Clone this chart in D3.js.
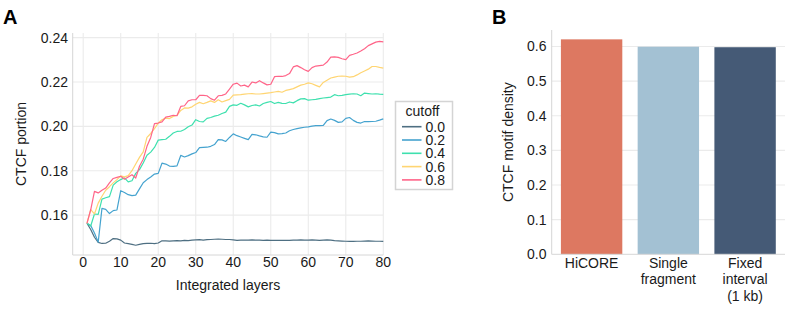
<!DOCTYPE html>
<html>
<head>
<meta charset="utf-8">
<script src="https://cdn.jsdelivr.net/npm/d3@7"></script>
<style>
  body { margin: 0; background: #fff; }
  text { font-family: 'Liberation Sans', Arial, Helvetica, sans-serif; fill: #1a1a1a; }
</style>
</head>
<body>
<div id="content"></div>
<script>
// panel A data: CTCF portion per number of integrated layers
const layers = d3.range(1, 81)
const cutoffs = ['0.0', '0.2', '0.4', '0.6', '0.8']
const cutoffColors = ['#4e6f82', '#45a3cf', '#3ee0ae', '#ffd572', '#ff6589']

const cut00 = [.1563, .1535, .1500, .1477, .1472, .1473, .1482, .1494, .1493, .1487,
    .1474, .1471, .1468, .1464, .1468, .1471, .1472, .1473, .1471, .1474,
    .1484, .1484, .1483, .1484, .1485, .1484, .1486, .1485, .1487, .1488,
    .1489, .1487, .1489, .1490, .1491, .1492, .1491, .1490, .1490, .1488,
    .1486, .1487, .1487, .1487, .1488, .1487, .1487, .1486, .1487, .1486,
    .1486, .1486, .1486, .1486, .1486, .1487, .1487, .1488, .1487, .1487,
    .1488, .1487, .1486, .1487, .1488, .1487, .1485, .1484, .1483, .1482,
    .1481, .1481, .1482, .1482, .1483, .1484, .1483, .1482, .1482, .1481]
const cut02 = [.1563, .1553, .1519, .1478, .1630, .1626, .1607, .1620, .1623, .1710,
    .1702, .1692, .1688, .1690, .1718, .1746, .1760, .1772, .1785, .1788,
    .1834, .1830, .1821, .1820, .1822, .1869, .1862, .1868, .1876, .1882,
    .1904, .1905, .1906, .1910, .1918, .1940, .1939, .1932, .1950, .1966,
    .1958, .1952, .1946, .1940, .1964, .1962, .1957, .1953, .1951, .1974,
    .1972, .1966, .1967, .1970, .1980, .1986, .1990, .1993, .1996, .1998,
    .2001, .2003, .2003, .2004, .2026, .2033, .2027, .2018, .2020, .2036,
    .2040, .2027, .2018, .2015, .2022, .2021, .2022, .2023, .2028, .2034]
const cut04 = [.1563, .1551, .1605, .1603, .1672, .1678, .1683, .1735, .1750, .1760,
    .1768, .1750, .1755, .1788, .1805, .1835, .1870, .1884, .1905, .1938,
    .1940, .1942, .1955, .1970, .1977, .1978, .1986, .1998, .2006, .2030,
    .2022, .2020, .2036, .2040, .2046, .2050, .2058, .2064, .2090, .2097,
    .2095, .2104, .2097, .2088, .2094, .2097, .2092, .2103, .2108, .2112,
    .2103, .2108, .2104, .2103, .2110, .2106, .2116, .2124, .2125, .2118,
    .2120, .2122, .2125, .2128, .2130, .2132, .2143, .2138, .2140, .2143,
    .2145, .2147, .2146, .2138, .2150, .2148, .2146, .2147, .2145, .2144]
const cut06 = [.1563, .1625, .1605, .1654, .1685, .1712, .1728, .1745, .1760, .1777,
    .1772, .1778, .1800, .1830, .1860, .1885, .1950, .1968, .1990, .2015,
    .2030, .2037, .2035, .2045, .2050, .2072, .2083, .2082, .2088, .2100,
    .2108, .2102, .2108, .2115, .2108, .2120, .2110, .2116, .2122, .2141,
    .2142, .2143, .2145, .2147, .2148, .2146, .2146, .2148, .2150, .2152,
    .2155, .2158, .2154, .2162, .2166, .2170, .2178, .2186, .2190, .2196,
    .2192, .2185, .2178, .2198, .2208, .2218, .2222, .2226, .2227, .2226,
    .2222, .2224, .2232, .2242, .2250, .2258, .2270, .2270, .2266, .2263]
const cut08 = [.1563, .1624, .1707, .1700, .1712, .1722, .1745, .1765, .1770, .1775,
    .1762, .1772, .1782, .1767, .1820, .1852, .1910, .1950, .2012, .2015,
    .2020, .2042, .2045, .2050, .2048, .2090, .2093, .2115, .2120, .2120,
    .2140, .2140, .2138, .2125, .2118, .2138, .2140, .2146, .2168, .2190,
    .2195, .2182, .2186, .2178, .2200, .2196, .2206, .2196, .2187, .2190,
    .2224, .2226, .2225, .2229, .2238, .2268, .2274, .2265, .2255, .2248,
    .2265, .2272, .2274, .2276, .2290, .2312, .2313, .2311, .2305, .2301,
    .2320, .2325, .2331, .2340, .2350, .2364, .2372, .2380, .2383, .2381]
const seriesA = [cut00, cut02, cut04, cut06, cut08]

const xTicksA = [0, 10, 20, 30, 40, 50, 60, 70, 80]
const yTicksA = [0.16, 0.18, 0.20, 0.22, 0.24]

// panel B data: CTCF motif density per method
const methods = ['HiCORE', 'Single fragment', 'Fixed interval (1 kb)']
const methodLabels = [['HiCORE'], ['Single', 'fragment'], ['Fixed', 'interval', '(1 kb)']]
const density = [0.6205, 0.5992, 0.5978]
const methodColors = ['#dd7861', '#a3c1d3', '#455a76']
const yTicksB = [0.0, 0.1, 0.2, 0.3, 0.4, 0.5, 0.6]

const gridColor = '#ebebeb'
const axisColor = '#d6d6d6'
const fontSize = 14

const svg = d3.select('#content')
    .append('svg')
    .attr('width', 791)
    .attr('height', 309)

// ---------- Panel A ----------
const scaleXA = d3.scaleLinear()
    .domain([-2.8, 80])
    .range([72.7, 383.3])

const scaleYA = d3.scaleLinear()
    .domain([0.142, 0.2421])
    .range([255, 33])

const panelA = svg.append('g').attr('id', 'panel-a')

panelA.selectAll('line.gy')
    .data(yTicksA)
    .join('line')
    .attr('class', 'gy')
    .attr('x1', scaleXA.range()[0])
    .attr('x2', scaleXA.range()[1])
    .attr('y1', d => scaleYA(d))
    .attr('y2', d => scaleYA(d))
    .attr('stroke', gridColor)
    .attr('stroke-width', 1.1)

panelA.selectAll('line.gx')
    .data(xTicksA)
    .join('line')
    .attr('class', 'gx')
    .attr('x1', d => scaleXA(d))
    .attr('x2', d => scaleXA(d))
    .attr('y1', scaleYA.range()[0])
    .attr('y2', scaleYA.range()[1])
    .attr('stroke', gridColor)
    .attr('stroke-width', 1.1)

// axis lines
panelA.append('line')
    .attr('x1', scaleXA.range()[0]).attr('x2', scaleXA.range()[0])
    .attr('y1', scaleYA.range()[1]).attr('y2', scaleYA.range()[0])
    .attr('stroke', axisColor)
panelA.append('line')
    .attr('x1', scaleXA.range()[0]).attr('x2', scaleXA.range()[1])
    .attr('y1', scaleYA.range()[0]).attr('y2', scaleYA.range()[0])
    .attr('stroke', axisColor)

const line = d3.line()
    .x((d, i) => scaleXA(layers[i]))
    .y(d => scaleYA(d))

panelA.selectAll('path.series')
    .data(seriesA)
    .join('path')
    .attr('class', 'series')
    .attr('d', d => line(d))
    .attr('fill', 'none')
    .attr('stroke', (d, i) => cutoffColors[i])
    .attr('stroke-width', 1.2)
    .attr('stroke-linejoin', 'round')

panelA.selectAll('text.ty')
    .data(yTicksA)
    .join('text')
    .attr('class', 'ty')
    .text(d => d.toFixed(2))
    .attr('x', 68)
    .attr('y', d => scaleYA(d))
    .attr('dy', '0.36em')
    .attr('text-anchor', 'end')
    .attr('font-size', fontSize)

panelA.selectAll('text.tx')
    .data(xTicksA)
    .join('text')
    .attr('class', 'tx')
    .text(d => d)
    .attr('x', d => scaleXA(d))
    .attr('y', 267)
    .attr('text-anchor', 'middle')
    .attr('font-size', fontSize)

panelA.append('text')
    .text('Integrated layers')
    .attr('x', (scaleXA.range()[0] + scaleXA.range()[1]) / 2)
    .attr('y', 290)
    .attr('text-anchor', 'middle')
    .attr('font-size', fontSize)

panelA.append('text')
    .text('CTCF portion')
    .attr('transform', `translate(26, ${(scaleYA.range()[0] + scaleYA.range()[1]) / 2}) rotate(-90)`)
    .attr('text-anchor', 'middle')
    .attr('font-size', fontSize)

panelA.append('text')
    .text('A')
    .attr('x', 3)
    .attr('y', 24)
    .attr('font-size', 20)
    .attr('font-weight', 'bold')
    .style('fill', '#000')

// legend
const legend = panelA.append('g')
    .attr('id', 'legend')
    .attr('transform', 'translate(395, 101)')

legend.append('rect')
    .attr('x', 0.5)
    .attr('y', 0.5)
    .attr('width', 57)
    .attr('height', 88)
    .attr('fill', '#fff')
    .attr('stroke', '#d4d4d4')
    .attr('stroke-width', 1.5)

legend.append('text')
    .text('cutoff')
    .attr('x', 10.5)
    .attr('y', 15)
    .attr('font-size', fontSize)

const keys = legend.selectAll('g.key')
    .data(cutoffs)
    .join('g')
    .attr('class', 'key')
    .attr('transform', (d, i) => `translate(0, ${25.7 + i * 13.3})`)

keys.append('line')
    .attr('x1', 7)
    .attr('x2', 26.5)
    .attr('y1', 0)
    .attr('y2', 0)
    .attr('stroke', (d, i) => cutoffColors[i])
    .attr('stroke-width', 1.6)

keys.append('text')
    .text(d => d)
    .attr('x', 30.5)
    .attr('y', 0)
    .attr('dy', '0.36em')
    .attr('font-size', fontSize)

// ---------- Panel B ----------
const scaleXB = d3.scaleBand()
    .domain(methods)
    .range([551.7, 785])
    .paddingInner(0.2)
    .paddingOuter(0.12)

const scaleYB = d3.scaleLinear()
    .domain([0, 0.6475])
    .range([254.3, 30])

const panelB = svg.append('g').attr('id', 'panel-b')

panelB.selectAll('line.gy')
    .data(yTicksB.slice(1))
    .join('line')
    .attr('class', 'gy')
    .attr('x1', scaleXB.range()[0])
    .attr('x2', scaleXB.range()[1])
    .attr('y1', d => scaleYB(d))
    .attr('y2', d => scaleYB(d))
    .attr('stroke', gridColor)
    .attr('stroke-width', 1.1)

panelB.selectAll('rect.bar')
    .data(density)
    .join('rect')
    .attr('class', 'bar')
    .attr('x', (d, i) => scaleXB(methods[i]))
    .attr('width', scaleXB.bandwidth())
    .attr('y', d => scaleYB(d))
    .attr('height', d => scaleYB(0) - scaleYB(d))
    .attr('fill', (d, i) => methodColors[i])

panelB.append('line')
    .attr('x1', scaleXB.range()[0]).attr('x2', scaleXB.range()[0])
    .attr('y1', scaleYB.range()[1]).attr('y2', scaleYB.range()[0])
    .attr('stroke', axisColor)
panelB.append('line')
    .attr('x1', scaleXB.range()[0]).attr('x2', scaleXB.range()[1])
    .attr('y1', scaleYB.range()[0]).attr('y2', scaleYB.range()[0])
    .attr('stroke', axisColor)

panelB.selectAll('text.ty')
    .data(yTicksB)
    .join('text')
    .attr('class', 'ty')
    .text(d => d.toFixed(1))
    .attr('x', 546.5)
    .attr('y', d => scaleYB(d))
    .attr('dy', '0.36em')
    .attr('text-anchor', 'end')
    .attr('font-size', fontSize)

panelB.selectAll('text.tx')
    .data(methodLabels)
    .join('text')
    .attr('class', 'tx')
    .attr('text-anchor', 'middle')
    .attr('font-size', fontSize)
    .each(function (d, i) {
        d3.select(this).selectAll('tspan')
            .data(d)
            .join('tspan')
            .text(t => t)
            .attr('x', scaleXB(methods[i]) + scaleXB.bandwidth() / 2)
            .attr('y', (t, j) => 268 + j * 16.4)
    })

panelB.append('text')
    .text('CTCF motif density')
    .attr('transform', `translate(513, ${(scaleYB.range()[0] + scaleYB.range()[1]) / 2}) rotate(-90)`)
    .attr('text-anchor', 'middle')
    .attr('font-size', fontSize)

panelB.append('text')
    .text('B')
    .attr('x', 492)
    .attr('y', 24)
    .attr('font-size', 20)
    .attr('font-weight', 'bold')
    .style('fill', '#000')
</script>
</body>
</html>
